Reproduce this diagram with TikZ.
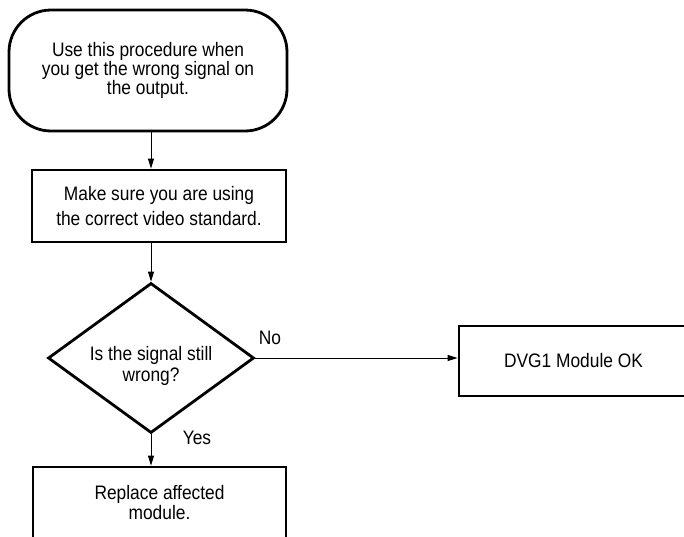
\documentclass[tikz,border=0pt]{standalone}
\usepackage{fontspec}
\setmainfont{Liberation Sans}[FakeStretch=0.89]
\usetikzlibrary{shapes.geometric,arrows.meta}
\begin{document}
\begin{tikzpicture}[x=1pt,y=-1pt,
  box/.style={draw, line width=2.8pt, rectangle, inner sep=0pt, align=center},
  txt/.style={font=\fontsize{19.5}{#1}\selectfont},
  txt/.default=20,
  arr/.style={line width=0.9pt, -{Triangle[length=10pt,width=6pt]}},
]
\useasboundingbox (0,0) rectangle (684,536);

% start terminal
\node[box, rounded corners=42pt, minimum width=278pt, minimum height=121pt, txt=17.8]
  (start) at (148,70.5) {Use this procedure when\\you get the wrong signal on\\the output.};

% first step
\node[box, minimum width=254pt, minimum height=72pt, txt=25.5]
  (check) at (159,206) {Make sure you are using\\the correct video standard.};

% decision
\node[draw, line width=2.8pt, diamond, aspect=1.37, minimum width=206pt,
  minimum height=150pt, inner sep=0pt] (dia) at (151,358) {};
\node[txt=20.7, align=center, inner sep=0pt] (diatext) at (151,366)
  {Is the signal still\\wrong?};

% outcomes
\node[box, minimum width=229pt, minimum height=70pt, txt]
  (ok) at (573.5,361) {DVG1 Module OK};
\node[box, minimum width=253pt, minimum height=71pt, txt=16]
  (repl) at (159.5,502.5) {Replace affected\\module.};

% connectors
\draw[arr] (start.south -| dia.north) -- (check.north -| dia.north);
\draw[arr] (check.south -| dia.north) -- (dia.north);
\draw[arr] (dia.east) -- (dia.east -| ok.west);
\draw[arr] (dia.south) -- (repl.north -| dia.south);

% branch labels
\node[txt, inner sep=0pt] (no) at (270,338) {No};
\node[txt, inner sep=0pt] (yes) at (197,438) {Yes};
\end{tikzpicture}
\end{document}
